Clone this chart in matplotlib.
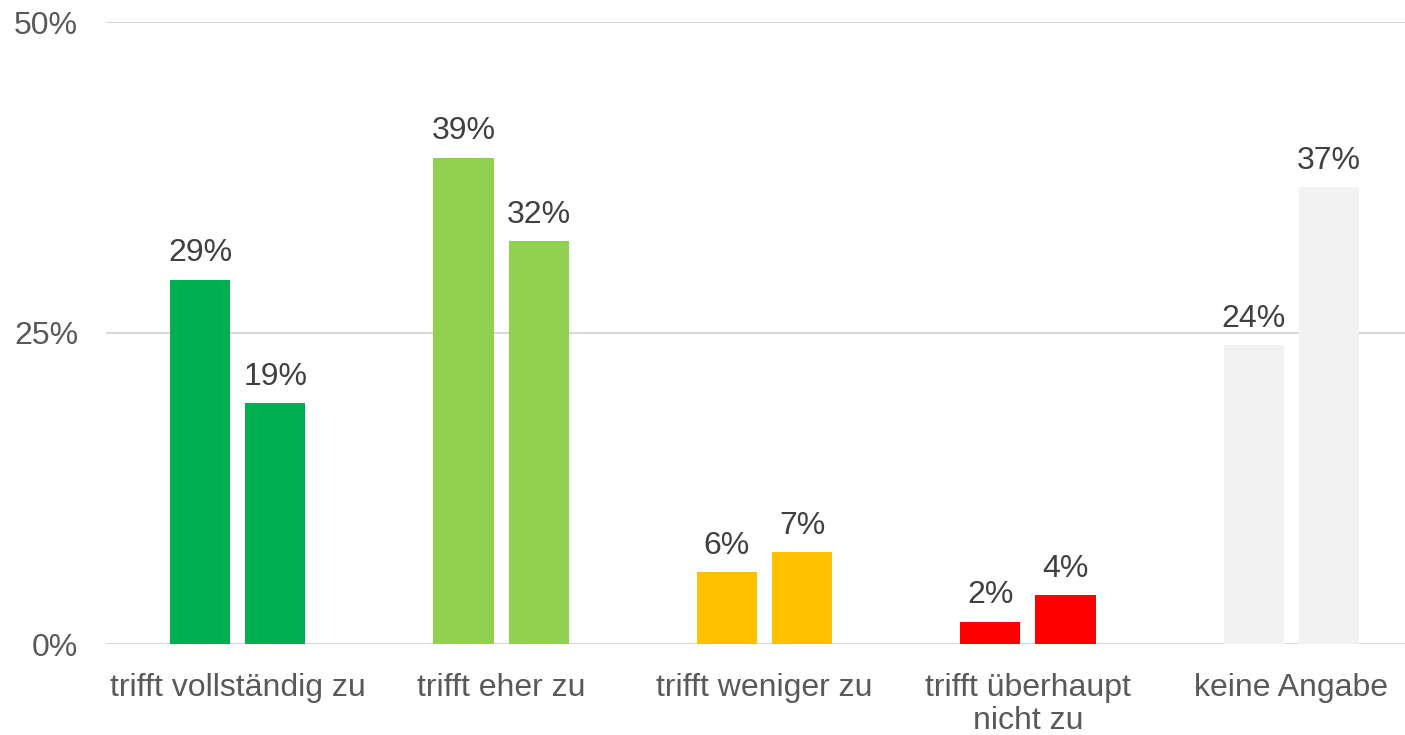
import matplotlib
matplotlib.use("Agg")
import matplotlib.pyplot as plt
import numpy as np

plt.rcParams['font.family'] = ['Liberation Sans', 'DejaVu Sans']

categories = ["trifft vollständig zu", "trifft eher zu", "trifft weniger zu",
              "trifft überhaupt\nnicht zu", "keine Angabe"]
series_a = [29.3, 39.1, 5.8, 1.8, 24.0]
series_b = [19.4, 32.4, 7.4, 3.9, 36.7]
colors = ["#00B050", "#92D050", "#FFC000", "#FF0000", "#F2F2F2"]
yticks = [0, 25, 50]
ytick_labels = ["0%", "25%", "50%"]

W, H = 1405, 735
fig = plt.figure(figsize=(W / 100, H / 100), dpi=100)
left = 106 / W
bottom = (H - 644) / H
top = (H - 22) / H
width = 1317 / W
ax = fig.add_axes([left, bottom, width, top - bottom])

x = np.arange(len(categories))
bw = 60 / 263
off = 37.5 / 263
bars_a = ax.bar(x - off, series_a, width=bw, color=colors, zorder=3)
bars_b = ax.bar(x + off, series_b, width=bw, color=colors, zorder=3)

for bars, vals in ((bars_a, series_a), (bars_b, series_b)):
    for b, v in zip(bars, vals):
        ax.annotate(f"{v:.0f}%", (b.get_x() + b.get_width() / 2, v),
                    xytext=(0, 8), textcoords="offset points",
                    ha="center", va="bottom", fontsize=23, color="#404040")

ax.set_xlim(-0.5, len(categories) - 0.5)
ax.set_ylim(0, 50)
ax.set_yticks(yticks)
ax.set_yticklabels(ytick_labels)
ax.set_xticks(x)
ax.set_xticklabels(categories, linespacing=1.13)
ax.tick_params(axis="y", length=0, pad=20, labelsize=23, labelcolor="#595959")
ax.tick_params(axis="x", length=0, pad=21, labelsize=23, labelcolor="#595959")
ax.yaxis.grid(True, color="#D9D9D9", linewidth=1.5, zorder=0)
ax.set_axisbelow(True)
for s in ax.spines.values():
    s.set_visible(False)

fig.savefig("out.png", dpi=100)
